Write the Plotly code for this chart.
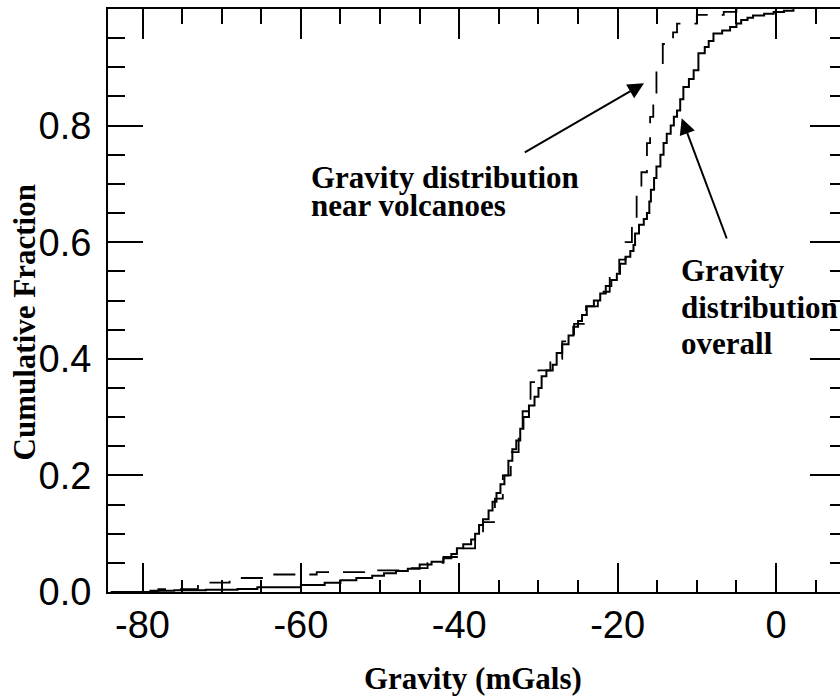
import plotly.graph_objects as go

# ---- data ----
overall_x = [-84, -79, -76, -72, -68, -65.5, -60, -57, -55, -53, -51, -49.5, -48, -46.5, -45, -43.5, -42, -41,
             -40.3, -39.5, -38.5, -38, -37.5, -37, -36.3, -35.8, -35.3, -34.8, -34.3, -33.8, -33.3, -32.8,
             -32.3, -31.9, -31.2, -30.5, -30, -29.6, -29, -28.2, -27.7, -27, -26.2, -25.6, -25, -24.5,
             -23.9, -23, -22.2, -21.5, -20.8, -20.1, -19.7, -19, -18.4, -18, -17.8, -17.3, -16.7, -16.3,
             -16.0, -15.8, -15.4, -15.1, -14.6, -14.2, -13.8, -13.3, -12.9, -12.5, -12.1, -11.7, -11.0,
             -10.4, -9.8, -9.0, -8.5, -7.9, -6.8, -5.8, -5.0, -4.4, -3.6, -2.9, -1.5, -0.3, 1.0, 2.2]
overall_y = [0.0, 0.002, 0.003, 0.004, 0.005, 0.008, 0.012, 0.016, 0.02, 0.024, 0.028, 0.032, 0.036, 0.04,
             0.047, 0.052, 0.058, 0.065, 0.075, 0.082, 0.09, 0.1, 0.115, 0.125, 0.14, 0.155, 0.17, 0.185,
             0.2, 0.225, 0.245, 0.26, 0.28, 0.30, 0.32, 0.335, 0.35, 0.37, 0.38, 0.39, 0.41, 0.425, 0.44,
             0.455, 0.465, 0.475, 0.49, 0.5, 0.512, 0.525, 0.535, 0.546, 0.563, 0.575, 0.585, 0.595, 0.615,
             0.63, 0.64, 0.65, 0.67, 0.69, 0.71, 0.73, 0.75, 0.77, 0.786, 0.80, 0.815, 0.826, 0.845, 0.866,
             0.88, 0.895, 0.924, 0.935, 0.945, 0.958, 0.963, 0.969, 0.975, 0.981, 0.985, 0.989, 0.992,
             0.995, 0.997, 1.0]

volcano_x = [-84, -78, -73, -69, -64, -58, -52, -47, -44, -42, -40, -38, -37, -35.5, -34.5, -33.5, -32.5,
             -32, -31, -30, -28.5, -27, -25.5, -24, -22.5, -21, -19.8, -19, -18.2, -17.6, -17, -16.3,
             -15.9, -15.5, -15.1, -14.3, -13, -12.5, -10, -6.6, -5]
volcano_y = [0.0, 0.005, 0.016, 0.024, 0.03, 0.034, 0.037, 0.041, 0.05, 0.06, 0.075, 0.1, 0.12, 0.16, 0.2,
             0.24, 0.28, 0.31, 0.36, 0.38, 0.40, 0.43, 0.46, 0.49, 0.515, 0.545, 0.57, 0.60, 0.64, 0.685,
             0.72, 0.77, 0.815, 0.85, 0.895, 0.94, 0.96, 0.975, 0.99, 0.995, 1.0]

x_ticks = [-80, -60, -40, -20, 0]
x_tick_labels = ["-80", "-60", "-40", "-20", "0"]
y_ticks = [0.0, 0.2, 0.4, 0.6, 0.8]
y_tick_labels = ["0.0", "0.2", "0.4", "0.6", "0.8"]
x_range = [-84.36, 8.08]
y_range = [0.0, 1.0]

x_title = "Gravity (mGals)"
y_title = "Cumulative Fraction"
label_volcano = ["Gravity distribution", "near volcanoes"]
label_overall = ["Gravity", "distribution", "overall"]

# ---- layout geometry ----
W, H = 840, 698
L, R, T, B = 108, 0, 9, 106
PW, PH = W - L - R, H - T - B


def pxx(px):
    return (px - L) / PW


def pyy(py):
    return (H - B - py) / PH


tick_font = dict(family="Liberation Sans, Arial", size=38, color="black")
serif_bold = dict(family="Liberation Serif, Times New Roman, serif", size=31, color="black")

fig = go.Figure()
fig.add_trace(go.Scatter(x=overall_x, y=overall_y, mode="lines", line_shape="hv",
                         line=dict(color="black", width=2), showlegend=False, hoverinfo="skip"))
fig.add_trace(go.Scatter(x=volcano_x, y=volcano_y, mode="lines", line_shape="hv",
                         line=dict(color="black", width=1.8, dash="22px,14px"),
                         showlegend=False, hoverinfo="skip"))
# invisible trace to anchor the mirror axes
fig.add_trace(go.Scatter(x=[x_range[0]], y=[y_range[0]], xaxis="x2", yaxis="y2", mode="markers",
                         marker=dict(opacity=0), showlegend=False, hoverinfo="skip"))

fig.update_layout(
    width=W, height=H,
    margin=dict(l=L, r=R, t=T, b=B, pad=0),
    paper_bgcolor="white", plot_bgcolor="white",
    xaxis=dict(range=x_range, tickmode="array", tickvals=x_ticks, ticktext=x_tick_labels,
               ticks="inside", ticklen=29, tickwidth=2, tickcolor="black",
               minor=dict(dtick=5, tick0=0, ticks="inside", ticklen=12, tickwidth=2, tickcolor="black"),
               showline=True, linewidth=2, linecolor="black", showgrid=False, zeroline=False,
               tickfont=tick_font, ticklabelstandoff=-2),
    yaxis=dict(range=y_range, tickmode="array", tickvals=y_ticks, ticktext=y_tick_labels,
               ticks="inside", ticklen=35, tickwidth=2, tickcolor="black",
               minor=dict(dtick=0.05, tick0=0, ticks="inside", ticklen=17, tickwidth=2, tickcolor="black"),
               showline=True, linewidth=2, linecolor="black", showgrid=False, zeroline=False,
               tickfont=tick_font, ticklabelstandoff=7),
    xaxis2=dict(range=x_range, overlaying="x", side="top", anchor="y2", tickmode="array", tickvals=x_ticks,
                ticks="inside", ticklen=30, tickwidth=2, tickcolor="black", showticklabels=False,
                minor=dict(dtick=5, tick0=0, ticks="inside", ticklen=15, tickwidth=2, tickcolor="black"),
                showline=True, linewidth=2, linecolor="black", showgrid=False, zeroline=False),
    yaxis2=dict(range=y_range, overlaying="y", side="right", anchor="x2", tickmode="array", tickvals=y_ticks,
                ticks="inside", ticklen=30, tickwidth=2, tickcolor="black", showticklabels=False,
                minor=dict(dtick=0.05, tick0=0, ticks="inside", ticklen=10, tickwidth=2, tickcolor="black"),
                showline=False, showgrid=False, zeroline=False),
)

ann = []
# axis titles
ann.append(dict(text=f"<b>{x_title}</b>", xref="paper", yref="paper", x=pxx(472.5), y=pyy(678),
                xanchor="center", yanchor="middle", showarrow=False, font=serif_bold))
ann.append(dict(text=f"<b>{y_title}</b>", xref="paper", yref="paper", x=pxx(24), y=pyy(322.5),
                xanchor="center", yanchor="middle", showarrow=False, textangle=-90, font=serif_bold))
# labels
for txt, cy in zip(label_volcano, [177, 205]):
    ann.append(dict(text=f"<b>{txt}</b>", xref="paper", yref="paper", x=pxx(309), y=pyy(cy),
                    xanchor="left", yanchor="middle", showarrow=False, font=serif_bold))
for txt, cy in zip(label_overall, [270, 307, 343]):
    ann.append(dict(text=f"<b>{txt}</b>", xref="paper", yref="paper", x=pxx(679), y=pyy(cy),
                    xanchor="left", yanchor="middle", showarrow=False, font=serif_bold))
# arrows (tip at x,y; tail offset in pixels)
ann.append(dict(text="", xref="paper", yref="paper", x=pxx(644), y=pyy(83.3), ax=523.3 - 644, ay=153.3 - 83.3,
                showarrow=True, arrowhead=2, arrowsize=1.6, arrowwidth=2, arrowcolor="black", standoff=0))
ann.append(dict(text="", xref="paper", yref="paper", x=pxx(681.7), y=pyy(118.3), ax=727.3 - 681.7,
                ay=240 - 118.3, showarrow=True, arrowhead=2, arrowsize=1.6, arrowwidth=2,
                arrowcolor="black", standoff=0))
fig.update_layout(annotations=ann)

fig.write_html("out.html")
